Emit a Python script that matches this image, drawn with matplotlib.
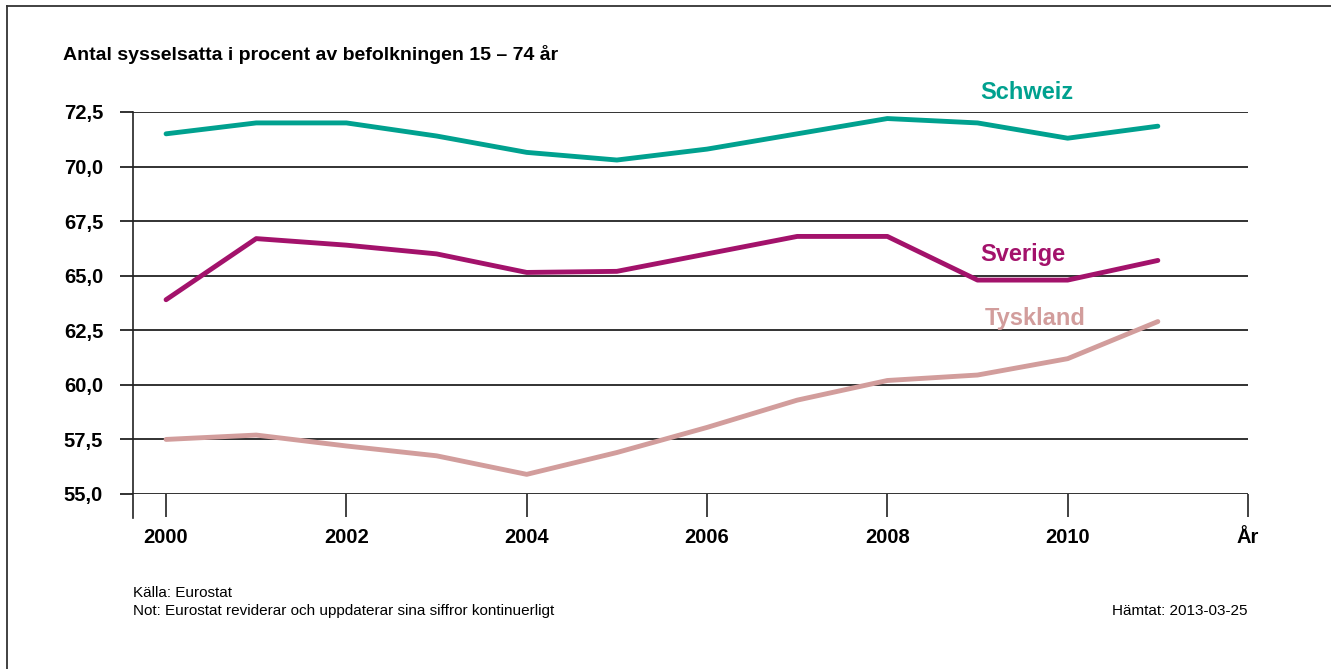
import numpy as np
import matplotlib
matplotlib.use("Agg")
import matplotlib.pyplot as plt
from matplotlib.lines import Line2D

# sysselsättningsgrad 15-74 år, Eurostat
years = [2000, 2001, 2002, 2003, 2004, 2005, 2006, 2007, 2008, 2009, 2010, 2011]
schweiz = [71.5, 72.0, 72.0, 71.4, 70.65, 70.3, 70.8, 71.5, 72.2, 72.0, 71.3, 71.85]
sverige = [63.9, 66.7, 66.4, 66.0, 65.15, 65.2, 66.0, 66.8, 66.8, 64.8, 64.8, 65.7]
tyskland = [57.5, 57.7, 57.2, 56.75, 55.9, 56.9, 58.05, 59.3, 60.2, 60.45, 61.2, 62.9]

yticks = [55.0, 57.5, 60.0, 62.5, 65.0, 67.5, 70.0, 72.5]
xticks = [2000, 2002, 2004, 2006, 2008, 2010]

c_ch = "#00A18F"
c_se = "#A3126B"
c_de = "#D29D9C"

plt.rcParams['font.family'] = ['Liberation Sans', 'DejaVu Sans']

fig = plt.figure(figsize=(13.31, 6.69), dpi=100)
ax = fig.add_axes([133/1331, 1 - 494/669, 1115/1331, 382/669])

for y in yticks:
    ax.axhline(y, color="#222222", lw=1.3, zorder=1)

ax.plot(years, schweiz, color=c_ch, lw=3.5, solid_capstyle="round", zorder=3)
ax.plot(years, sverige, color=c_se, lw=3.5, solid_capstyle="round", zorder=3)
ax.plot(years, tyskland, color=c_de, lw=3.5, solid_capstyle="round", zorder=3)

ax.set_xlim(2000 - 33/90, 2012)
ax.set_ylim(55, 72.5)

for s in ax.spines.values():
    s.set_visible(False)
# vertical axis line, running below the bottom gridline
ax.plot([ax.get_xlim()[0]] * 2, [53.9, 72.5], color="#222222", lw=1.2,
        clip_on=False, zorder=2)

ax.set_yticks(yticks)
ax.set_yticklabels([f"{v:.1f}".replace(".", ",") for v in yticks],
                   fontsize=14.5, fontweight="bold")
ax.tick_params(axis="y", length=9.5, width=1.3, color="#222222", pad=12)
for lbl in ax.get_yticklabels():
    lbl.set_va("center_baseline")

ax.set_xticks(xticks + [2012])
ax.set_xticklabels([str(v) for v in xticks] + ["År"], fontsize=14.5, fontweight="bold")
ax.tick_params(axis="x", length=16.5, width=1.2, color="#222222", pad=8)

ax.text(2009.03, 72.85, "Schweiz", color=c_ch, fontsize=17, fontweight="bold",
        ha="left", va="bottom")
ax.text(2009.03, 65.45, "Sverige", color=c_se, fontsize=17, fontweight="bold",
        ha="left", va="bottom")
ax.text(2009.08, 62.5, "Tyskland", color=c_de, fontsize=17, fontweight="bold",
        ha="left", va="bottom")

fig.text(63/1331, 1 - 55/669, "Antal sysselsatta i procent av befolkningen 15 – 74 år",
         fontsize=14, fontweight="bold", ha="left", va="center")

fig.text(133/1331, 1 - 593/669, "Källa: Eurostat", fontsize=11, ha="left", va="center")
fig.text(133/1331, 1 - 611/669,
         "Not: Eurostat reviderar och uppdaterar sina siffror kontinuerligt",
         fontsize=11, ha="left", va="center")
fig.text(1247/1331, 1 - 611/669, "Hämtat: 2013-03-25", fontsize=11,
         ha="right", va="center")

# page frame
fig.add_artist(Line2D([7/1331, 1], [1 - 6/669] * 2, color="#333333", lw=1.3))
fig.add_artist(Line2D([7/1331] * 2, [0, 1 - 6/669], color="#333333", lw=1.3))

fig.savefig("out.png", dpi=100)
